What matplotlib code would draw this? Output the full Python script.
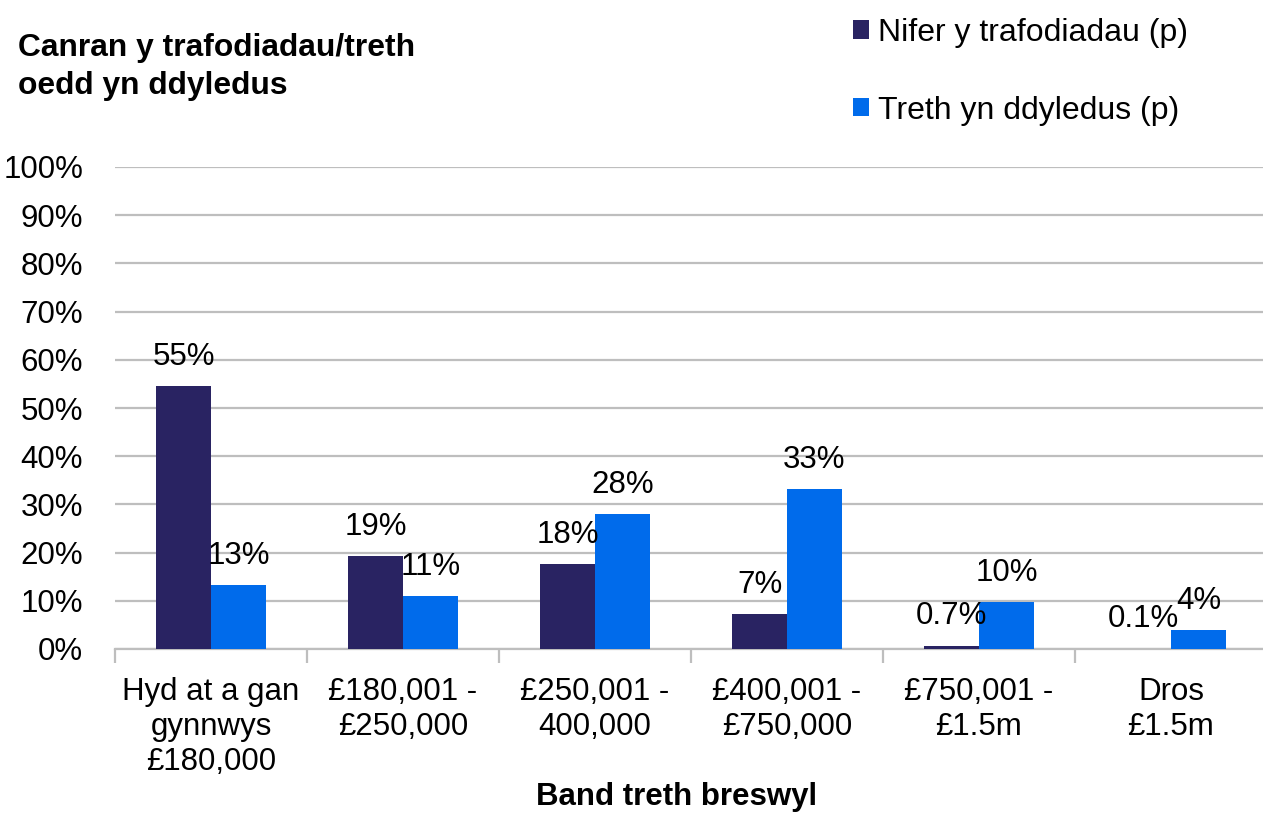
import matplotlib
matplotlib.use('Agg')
import matplotlib.pyplot as plt
import numpy as np

plt.rcParams['font.family'] = ['Liberation Sans', 'DejaVu Sans']

# data
bands = ['Hyd at a gan\ngynnwys\n£180,000', '£180,001 -\n£250,000', '£250,001 -\n400,000',
         '£400,001 -\n£750,000', '£750,001 -\n£1.5m', 'Dros\n£1.5m']
nifer = [54.6, 19.2, 17.6, 7.2, 0.7, 0.1]
treth = [13.3, 10.9, 28.0, 33.2, 9.8, 4.0]
nifer_lbl = ['55%', '19%', '18%', '7%', '0.7%', '0.1%']
treth_lbl = ['13%', '11%', '28%', '33%', '10%', '4%']
series_names = ['Nifer y trafodiadau (p)', 'Treth yn ddyledus (p)']

c_dark = '#292362'
c_blue = '#006BEB'
grid_c = '#BEBEBE'
fs = 22.5

W, H = 1263, 814
fig = plt.figure(figsize=(W/100, H/100), dpi=100)
ax = fig.add_axes([115/W, 1-649/H, (1267-115)/W, (649-167)/H])

x = np.arange(len(bands))
bw = 0.286
b1 = ax.bar(x - bw/2, nifer, bw, color=c_dark, label=series_names[0], zorder=3)
b2 = ax.bar(x + bw/2, treth, bw, color=c_blue, label=series_names[1], zorder=3)

for bars, lbls in ((b1, nifer_lbl), (b2, treth_lbl)):
    for r, s in zip(bars, lbls):
        ax.annotate(s, (r.get_x() + r.get_width()/2, r.get_height()),
                    xytext=(0, 21), textcoords='offset points',
                    ha='center', va='center', fontsize=fs, zorder=4)

ax.set_xlim(-0.5, len(bands) - 0.5)
ax.set_ylim(0, 100)
ax.set_yticks(np.arange(0, 101, 10))
ax.set_yticklabels([f'{v}%' for v in range(0, 101, 10)], fontsize=fs)
ax.yaxis.grid(True, color=grid_c, linewidth=1.6, zorder=0)
ax.tick_params(axis='y', length=0, pad=23)

# category boundaries as tick marks
ax.set_xticks(np.arange(-0.5, len(bands)), minor=False)
ax.set_xticklabels([])
ax.set_xticks(x, minor=True)
ax.set_xticklabels(bands, minor=True, fontsize=fs, linespacing=1.22)
ax.tick_params(axis='x', which='major', length=10, width=1.6, color=grid_c, direction='out')
ax.tick_params(axis='x', which='minor', length=0, pad=20)

for sp in ['top', 'right', 'left']:
    ax.spines[sp].set_visible(False)
ax.spines['bottom'].set_color(grid_c)
ax.spines['bottom'].set_linewidth(1.6)

fig.text(18/W, 1-48/H, 'Canran y trafodiadau/treth', fontsize=22.9, fontweight='bold',
         ha='left', va='center')
fig.text(18/W, 1-86/H, 'oedd yn ddyledus', fontsize=22.9, fontweight='bold',
         ha='left', va='center')
fig.text(677/W, 1-797/H, 'Band treth breswyl', fontsize=22.5, fontweight='bold',
         ha='center', va='center')

fig.legend(handles=[b1, b2], labels=series_names, loc='upper left',
           bbox_to_anchor=(824/W, 1+11/H), frameon=False, fontsize=23,
           handlelength=0.5, handleheight=0.5, handletextpad=0.3, labelspacing=1.5)

fig.savefig('out.png', dpi=100)
